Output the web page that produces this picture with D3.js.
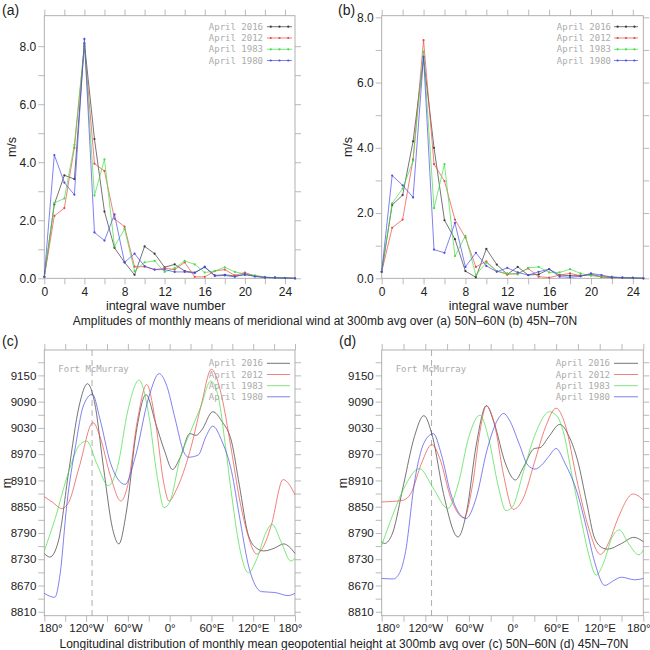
<!DOCTYPE html>
<html>
<head>
<meta charset="utf-8">
<script src="https://cdn.jsdelivr.net/npm/d3@7"></script>
<style>
  html, body { margin: 0; padding: 0; background: #fff; }
  svg text { font-family: 'Liberation Sans', Arial, sans-serif; }
  .thin { font-family: 'DejaVu Sans Mono', monospace !important; }
</style>
</head>
<body>
<svg id="chart" width="650" height="650"></svg>
<script>
// series names + colours
const years = ['April 2016', 'April 2012', 'April 1983', 'April 1980'];
const colors = ['#3a3a3a', '#e84a44', '#45dc45', '#4b4bea'];

// wave numbers 0..25
const waveNumbers = [0,1,2,3,4,5,6,7,8,9,10,11,12,13,14,15,16,17,18,19,20,21,22,23,24,25];
const waveTicks = [0, 4, 8, 12, 16, 20, 24];

// (a) 50N-60N amplitudes, m/s
const ampA2016 = [0.05,2.55,3.55,3.42,8.1,4.8,2.3,1.05,0.55,0.12,1.1,0.85,0.38,0.48,0.25,0.2,0.38,0.1,0.12,0.08,0.12,0.08,0.03,0.02,0.01,0.0];
const ampA2012 = [0.05,2.15,2.42,4.5,8.0,3.95,3.7,2.05,1.78,0.4,0.4,0.3,0.35,0.3,0.55,0.05,0.05,0.25,0.3,0.1,0.2,0.08,0.03,0.02,0.01,0.0];
const ampA1983 = [0.05,2.6,2.75,4.6,8.05,2.85,4.1,1.1,1.7,0.25,0.55,0.6,0.22,0.35,0.6,0.48,0.2,0.25,0.38,0.22,0.15,0.1,0.05,0.02,0.01,0.0];
const ampA1980 = [0.05,4.25,3.3,2.88,8.25,1.58,1.3,2.2,0.55,0.85,0.42,0.3,0.3,0.22,0.22,0.18,0.4,0.08,0.1,0.05,0.15,0.06,0.03,0.02,0.01,0.0];

// (b) 45N-70N amplitudes, m/s
const ampB2016 = [0.2,2.25,2.55,4.2,6.75,4.0,1.78,1.2,0.22,0.03,0.9,0.42,0.12,0.35,0.1,0.12,0.28,0.1,0.08,0.08,0.12,0.05,0.03,0.02,0.01,0.0];
const ampB2012 = [0.2,1.55,1.8,3.65,7.3,3.5,2.98,1.8,1.25,0.35,0.52,0.22,0.12,0.15,0.3,0.05,0.02,0.1,0.15,0.08,0.1,0.04,0.02,0.01,0.01,0.0];
const ampB1983 = [0.2,2.3,2.75,3.6,6.95,2.15,3.5,0.68,1.3,0.1,0.48,0.22,0.15,0.12,0.32,0.35,0.18,0.18,0.28,0.15,0.08,0.06,0.05,0.02,0.01,0.0];
const ampB1980 = [0.2,3.15,2.85,2.48,6.8,0.88,0.78,1.7,0.35,0.78,0.38,0.2,0.32,0.18,0.1,0.2,0.28,0.05,0.03,0.06,0.15,0.1,0.03,0.02,0.01,0.0];

// longitude axis
const lonTicks = [-180, -120, -60, 0, 60, 120, 180];
const lonTickLabels = ['180°', '120°W', '60°W', '0°', '60°E', '120°E', '180°'];
const fortMcMurrayLon = -111.4;

// geopotential height axis (bottom label is printed as 8810 in the original)
const geoTicks = [8610, 8670, 8730, 8790, 8850, 8910, 8970, 9030, 9090, 9150];
const geoTickLabels = ['8810', '8670', '8730', '8790', '8850', '8910', '8970', '9030', '9090', '9150'];

// (c) 50N-60N geopotential height, [lon, m]
const geoC2016 = [[-180,8743],[-172,8735],[-160,8770],[-145,8930],[-130,9080],[-118,9131],[-108,9090],[-95,8940],[-82,8800],[-73,8765],[-62,8840],[-48,9020],[-34,9106],[-20,9040],[-7,8976],[4,8935],[15,8962],[29,9017],[38,9013],[46,9025],[62,9067],[75,9045],[89,8998],[100,8900],[113,8785],[125,8755],[135,8749],[150,8755],[164,8765],[172,8758],[180,8743]];
const geoC2012 = [[-180,8873],[-168,8860],[-155,8846],[-145,8860],[-130,8940],[-110,9042],[-100,9010],[-85,8920],[-70,8863],[-60,8900],[-46,9050],[-33,9129],[-20,9040],[-8,8900],[-1,8863],[10,8890],[29,8976],[45,9080],[60,9164],[72,9120],[89,8976],[100,8870],[111,8793],[125,8742],[135,8760],[146,8808],[163,8912],[172,8900],[180,8877]];
const geoC1983 = [[-180,8749],[-165,8820],[-145,8930],[-130,8990],[-119,9000],[-105,8950],[-88,8898],[-75,8940],[-60,9070],[-44,9139],[-30,9060],[-18,8920],[-8,8848],[0,8860],[15,8960],[32,9029],[45,9080],[59,9137],[70,9100],[80,8990],[89,8877],[100,8760],[113,8699],[125,8730],[138,8790],[147,8810],[160,8770],[174,8726],[180,8732]];
const geoC1980 = [[-180,8652],[-165,8643],[-157,8700],[-148,8850],[-135,8990],[-124,9080],[-111,9107],[-100,9050],[-85,8950],[-64,8901],[-50,8960],[-30,9100],[-15,9154],[-5,9130],[8,9050],[20,8976],[27,8963],[41,8968],[52,9010],[62,9034],[75,9000],[89,8930],[100,8830],[113,8717],[125,8665],[132,8656],[151,8654],[170,8647],[180,8652]];

// (d) 45N-70N geopotential height, [lon, m]
const geoD2016 = [[-180,8770],[-176,8766],[-165,8790],[-150,8900],[-135,9010],[-122,9058],[-110,9010],[-95,8880],[-75,8781],[-63,8840],[-50,8990],[-36,9081],[-25,9040],[-10,8950],[4,8911],[15,8940],[30,8983],[38,8985],[50,9010],[65,9038],[78,9010],[90,8953],[102,8860],[113,8778],[125,8755],[131,8753],[150,8766],[167,8780],[180,8770]];
const geoD2012 = [[-180,8861],[-165,8862],[-150,8865],[-140,8880],[-125,8950],[-111,8992],[-100,8960],[-85,8870],[-67,8825],[-55,8900],[-45,9020],[-36,9080],[-25,9040],[-12,8920],[1,8844],[15,8870],[30,8950],[45,9030],[60,9075],[72,9040],[90,8900],[105,8800],[121,8741],[133,8770],[145,8823],[166,8879],[180,8865]];
const geoD1983 = [[-180,8762],[-165,8830],[-150,8890],[-128,8937],[-110,8895],[-89,8846],[-75,8900],[-60,9010],[-45,9059],[-32,9000],[-20,8900],[-9,8841],[0,8850],[15,8930],[30,9010],[51,9067],[62,9055],[70,9021],[82,8920],[95,8816],[105,8740],[115,8694],[125,8720],[137,8780],[147,8797],[160,8765],[174,8740],[180,8751]];
const geoD1980 = [[-180,8686],[-164,8685],[-155,8700],[-148,8740],[-134,8915],[-122,8995],[-109,9017],[-98,8970],[-85,8880],[-64,8823],[-50,8870],[-35,8980],[-20,9050],[-12,9063],[-5,9050],[10,8990],[21,8945],[31,8936],[40,8945],[50,8965],[60,8983],[72,8950],[90,8877],[102,8800],[113,8724],[127,8670],[138,8680],[150,8689],[168,8683],[180,8686]];

const svg = d3.select('#chart');
svg.append('rect').attr('width', 650).attr('height', 650).attr('fill', '#fff');

const frameColor = '#a8a8a8';
const tickLen = 6;

// draw outward ticks on all four sides + frame
function drawFrame(g, x, y, xMajor, xMinor, yMajor, yMinor, xFmt, yFmt, xPad, labelSize) {
    const [x0, x1] = x.range();
    const [y0, y1] = y.range(); // y0 bottom, y1 top

    const sides = [
        { axis: d3.axisBottom, scale: x, tr: `translate(0,${y0})`, major: xMajor, minor: xMinor, fmt: xFmt, pad: xPad },
        { axis: d3.axisTop, scale: x, tr: `translate(0,${y1})`, major: xMajor, minor: xMinor, fmt: null, pad: 3 },
        { axis: d3.axisLeft, scale: y, tr: `translate(${x0},0)`, major: yMajor, minor: yMinor, fmt: yFmt, pad: 2 },
        { axis: d3.axisRight, scale: y, tr: `translate(${x1},0)`, major: yMajor, minor: yMinor, fmt: null, pad: 3 }
    ];

    sides.forEach(s => {
        g.append('g')
            .attr('transform', s.tr)
            .call(s.axis(s.scale).tickValues(s.minor).tickSize(tickLen).tickFormat(''))
            .call(a => a.select('.domain').remove())
            .call(a => a.selectAll('line').attr('stroke', frameColor).attr('stroke-width', 0.8));

        const ax = g.append('g')
            .attr('transform', s.tr)
            .call(s.axis(s.scale).tickValues(s.major).tickSize(tickLen).tickPadding(s.pad)
                .tickFormat(s.fmt ? s.fmt : () => ''))
            .call(a => a.select('.domain').remove())
            .call(a => a.selectAll('line').attr('stroke', frameColor).attr('stroke-width', 0.8));
        ax.selectAll('text')
            .attr('fill', '#222')
            .style('font-size', labelSize);
    });

    g.append('rect')
        .attr('x', x0).attr('y', y1)
        .attr('width', x1 - x0).attr('height', y0 - y1)
        .attr('fill', 'none')
        .attr('stroke', frameColor)
        .attr('stroke-width', 0.9);
}

function drawLegend(g, textEnd, lx0, lx1, rowY, withMarkers) {
    years.forEach((name, i) => {
        g.append('text')
            .attr('class', 'thin')
            .attr('x', textEnd)
            .attr('y', rowY[i])
            .attr('dy', '0.35em')
            .attr('text-anchor', 'end')
            .attr('fill', '#ababab')
            .style('font-size', '9px')
            .text(name);
        g.append('line')
            .attr('x1', lx0).attr('x2', lx1)
            .attr('y1', rowY[i]).attr('y2', rowY[i])
            .attr('stroke', colors[i])
            .attr('stroke-width', 0.7);
        if (withMarkers) {
            [0.15, 0.5, 0.85].forEach(f => {
                g.append('circle')
                    .attr('cx', lx0 + f * (lx1 - lx0))
                    .attr('cy', rowY[i])
                    .attr('r', 1.1)
                    .attr('fill', colors[i]);
            });
        }
    });
}

function ampPanel(opts) {
    const g = svg.append('g');
    const x = d3.scaleLinear().domain([0, 25]).range([opts.left, opts.right]);
    const y = d3.scaleLinear().domain([0, opts.yMax]).range([opts.bottom, opts.top]);

    drawFrame(g, x, y,
        waveTicks, [2, 6, 10, 14, 18, 22],
        [0, 2, 4, 6, 8], [1, 3, 5, 7],
        d => `${d}`, d => d3.format('.1f')(d), 3.5, '12px');

    const line = d3.line()
        .x((d, i) => x(waveNumbers[i]))
        .y(d => y(d));

    opts.series.forEach((vals, s) => {
        g.append('path')
            .datum(vals)
            .attr('d', line)
            .attr('fill', 'none')
            .attr('stroke', colors[s])
            .attr('stroke-width', 0.7);
        g.selectAll(null)
            .data(vals)
            .enter()
            .append('circle')
                .attr('cx', (d, i) => x(waveNumbers[i]))
                .attr('cy', d => y(d))
                .attr('r', 1.1)
                .attr('fill', colors[s]);
    });

    drawLegend(g, opts.legendEnd, opts.legendX0, opts.legendX1, [26.7, 38, 49.3, 60.5], true);

    g.append('text')
        .attr('x', (opts.left + opts.right) / 2 - 4)
        .attr('y', 310)
        .attr('text-anchor', 'middle')
        .attr('fill', '#222')
        .style('font-size', '12.5px')
        .text('integral wave number');

    g.append('text')
        .attr('transform', `translate(${opts.ylabX},147) rotate(-90)`)
        .attr('text-anchor', 'middle')
        .attr('fill', '#222')
        .style('font-size', '12.5px')
        .text('m/s');

    g.append('text')
        .attr('x', opts.tagX).attr('y', 15)
        .attr('fill', '#222')
        .style('font-size', '14px')
        .text(opts.tag);
}

function geoPanel(opts) {
    const g = svg.append('g');
    const x = d3.scaleLinear().domain([-180, 180]).range([opts.left, opts.right]);
    const y = d3.scaleLinear().domain([8601, 9208]).range([615.7, 350]);

    drawFrame(g, x, y,
        lonTicks, [-150, -90, -30, 30, 90, 150],
        geoTicks, [8640, 8700, 8760, 8820, 8880, 8940, 9000, 9060, 9120, 9180],
        d => lonTickLabels[lonTicks.indexOf(d)],
        d => geoTickLabels[geoTicks.indexOf(d)], 2.5, '11.5px');

    // pull the two end labels inward like the original
    g.selectAll('.tick text')
        .filter(d => d === -180).attr('dx', 6);
    g.selectAll('.tick text')
        .filter(d => d === 180).attr('dx', -5);

    // Fort McMurray marker
    g.append('line')
        .attr('x1', x(fortMcMurrayLon)).attr('x2', x(fortMcMurrayLon))
        .attr('y1', 350).attr('y2', 615.7)
        .attr('stroke', '#999')
        .attr('stroke-width', 0.8)
        .attr('stroke-dasharray', '6,4');
    g.append('text')
        .attr('class', 'thin')
        .attr('x', opts.left + 14)
        .attr('y', 369)
        .attr('dy', '0.35em')
        .attr('fill', '#ababab')
        .style('font-size', '9px')
        .text('Fort McMurray');

    const line = d3.line()
        .x(d => x(d[0]))
        .y(d => y(d[1]))
        .curve(d3.curveMonotoneX);

    opts.series.forEach((pts, s) => {
        g.append('path')
            .datum(pts)
            .attr('d', line)
            .attr('fill', 'none')
            .attr('stroke', colors[s])
            .attr('stroke-width', 0.7);
    });

    drawLegend(g, opts.legendEnd, opts.legendX0, opts.legendX1, [363.3, 374.5, 385.7, 396.8], false);

    g.append('text')
        .attr('transform', `translate(${opts.ylabX},483) rotate(-90)`)
        .attr('text-anchor', 'middle')
        .attr('fill', '#222')
        .style('font-size', '12.5px')
        .text('m');

    g.append('text')
        .attr('x', opts.tagX).attr('y', 346)
        .attr('fill', '#222')
        .style('font-size', '14px')
        .text(opts.tag);
}

ampPanel({
    left: 44.3, right: 295, top: 15.7, bottom: 278.3, yMax: 9.05,
    series: [ampA2016, ampA2012, ampA1983, ampA1980],
    legendEnd: 263, legendX0: 267, legendX1: 292,
    ylabX: 16, tagX: 2, tag: '(a)'
});
ampPanel({
    left: 381.7, right: 643.3, top: 15.7, bottom: 278.3, yMax: 8.05,
    series: [ampB2016, ampB2012, ampB1983, ampB1980],
    legendEnd: 611, legendX0: 614, legendX1: 638,
    ylabX: 352, tagX: 338, tag: '(b)'
});
geoPanel({
    left: 44.3, right: 295,
    series: [geoC2016, geoC2012, geoC1983, geoC1980],
    legendEnd: 263, legendX0: 267, legendX1: 290,
    ylabX: 11, tagX: 2, tag: '(c)'
});
geoPanel({
    left: 381.7, right: 643.3,
    series: [geoD2016, geoD2012, geoD1983, geoD1980],
    legendEnd: 610, legendX0: 614, legendX1: 638,
    ylabX: 347, tagX: 339, tag: '(d)'
});

// figure-level captions
svg.append('text')
    .attr('x', 325).attr('y', 325)
    .attr('text-anchor', 'middle')
    .attr('fill', '#222')
    .style('font-size', '12px')
    .text('Amplitudes of monthly means of meridional wind at 300mb avg over (a) 50N\u201360N (b) 45N\u201370N');

svg.append('text')
    .attr('x', 344).attr('y', 647.5)
    .attr('text-anchor', 'middle')
    .attr('fill', '#222')
    .style('font-size', '12px')
    .text('Longitudinal distribution of monthly mean geopotential height at 300mb avg over (c) 50N\u201360N (d) 45N\u201370N');
</script>
</body>
</html>
